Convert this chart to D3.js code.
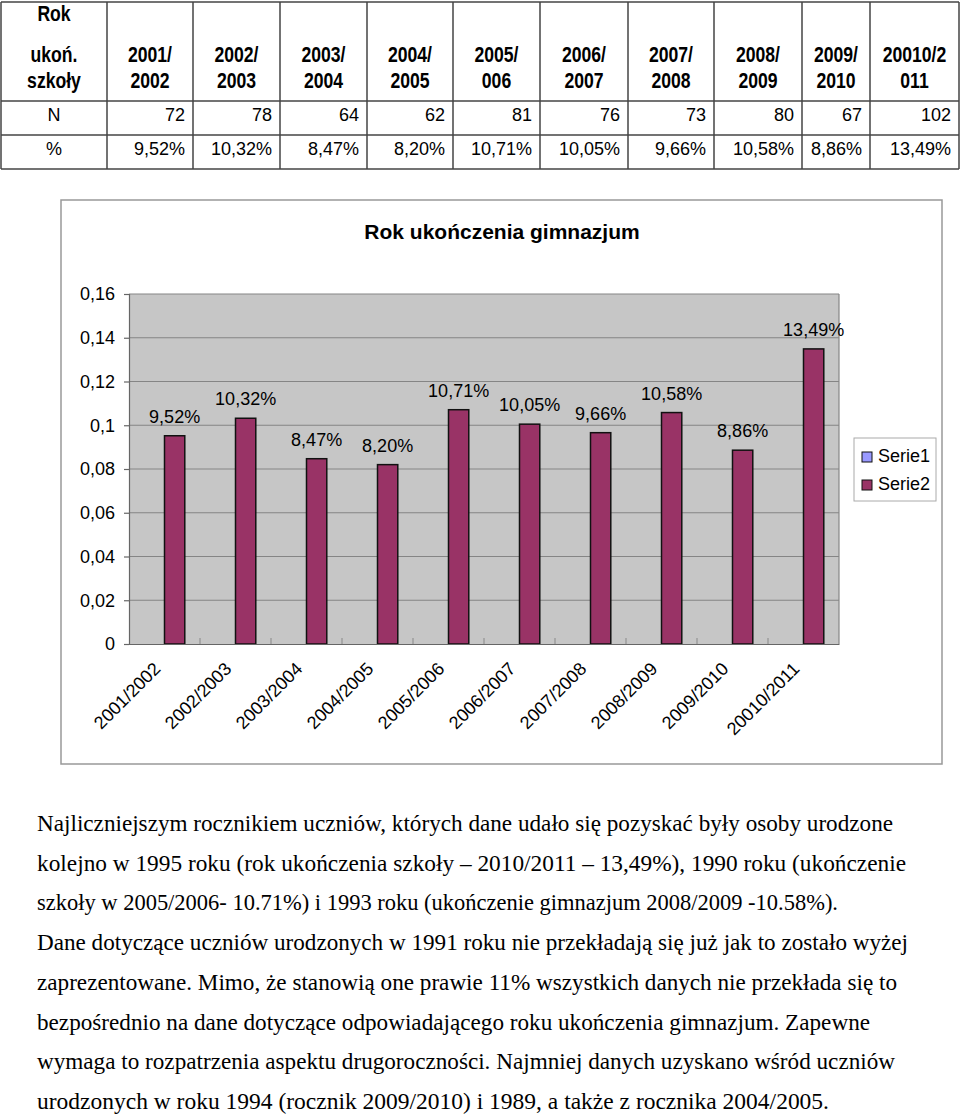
<!DOCTYPE html>
<html lang="pl">
<head>
<meta charset="UTF-8">
<title>Rok ukończenia gimnazjum</title>
<script src="https://cdnjs.cloudflare.com/ajax/libs/d3/7.8.5/d3.min.js"></script>
<style>
  body { margin: 0; background: #fff; }
  svg { display: block; }
  .sans { font-family: Arial, "Liberation Sans", sans-serif; }
  .serif { font-family: "Times New Roman", "Liberation Serif", serif; }
</style>
</head>
<body>
<div id="page"></div>
<script>
const years = ["2001/2002", "2002/2003", "2003/2004", "2004/2005", "2005/2006",
               "2006/2007", "2007/2008", "2008/2009", "2009/2010", "20010/2011"];
const headTop = ["2001/", "2002/", "2003/", "2004/", "2005/", "2006/", "2007/", "2008/", "2009/", "20010/2"];
const headBottom = ["2002", "2003", "2004", "2005", "006", "2007", "2008", "2009", "2010", "011"];
const nCounts = [72, 78, 64, 62, 81, 76, 73, 80, 67, 102];
const shares = [0.0952, 0.1032, 0.0847, 0.0820, 0.1071, 0.1005, 0.0966, 0.1058, 0.0886, 0.1349];
const seriesNames = ["Serie1", "Serie2"];
const yTicks = [0, 0.02, 0.04, 0.06, 0.08, 0.1, 0.12, 0.14, 0.16];

const paragraph = [
  "Najliczniejszym rocznikiem uczniów, których dane udało się pozyskać były osoby urodzone",
  "kolejno w 1995 roku  (rok ukończenia szkoły – 2010/2011 – 13,49%), 1990 roku (ukończenie",
  "szkoły w 2005/2006- 10.71%) i 1993 roku (ukończenie gimnazjum 2008/2009 -10.58%).",
  "Dane dotyczące uczniów urodzonych w 1991 roku nie przekładają się już jak to zostało wyżej",
  "zaprezentowane. Mimo, że stanowią one prawie 11% wszystkich danych nie przekłada się to",
  "bezpośrednio na dane dotyczące odpowiadającego roku ukończenia gimnazjum. Zapewne",
  "wymaga to rozpatrzenia aspektu drugoroczności. Najmniej danych uzyskano wśród uczniów",
  "urodzonych w roku 1994  (rocznik 2009/2010) i 1989,  a także z rocznika 2004/2005."
];
const lineEnds = [893, 906, 838, 908, 897, 870, 895, 829];

const W = 960, H = 1119;
const svg = d3.select("#page").append("svg").attr("width", W).attr("height", H);

const pl = d3.formatLocale({decimal: ",", thousands: " ", grouping: [3], currency: ["", ""]});
const pct = pl.format(".2%");
const num = pl.format("~g");

// ---------- table ----------
const colEdges = [1, 107, 193, 280, 367, 453, 540, 628, 714, 802, 870, 959];
const rowEdges = [2, 101, 135, 169];
const table = svg.append("g").attr("class", "sans");

rowEdges.forEach(yy => table.append("line")
  .attr("x1", colEdges[0]).attr("x2", colEdges[colEdges.length - 1])
  .attr("y1", yy).attr("y2", yy)
  .attr("stroke", "#444").attr("stroke-width", 1.5));
colEdges.forEach(xx => table.append("line")
  .attr("x1", xx).attr("x2", xx)
  .attr("y1", rowEdges[0]).attr("y2", rowEdges[rowEdges.length - 1])
  .attr("stroke", "#444").attr("stroke-width", 1.5));

const mid = i => (colEdges[i] + colEdges[i + 1]) / 2;
// header glyphs in the scan are taller than wide, so squeeze them a bit
const headCell = (g, t, cx, by) => g.append("text")
  .attr("transform", `translate(${cx},${by}) scale(0.8,1)`).text(t);
const head = table.append("g").attr("font-weight", "bold").attr("font-size", 22).attr("text-anchor", "middle");
[["Rok", 21], ["ukoń.", 62], ["szkoły", 88]].forEach(([t, yy]) => headCell(head, t, mid(0), yy));
headTop.forEach((t, i) => headCell(head, t, mid(i + 1), 62));
headBottom.forEach((t, i) => headCell(head, t, mid(i + 1), 88));

const body = table.append("g").attr("font-size", 18);
body.append("text").attr("x", mid(0)).attr("y", 121).attr("text-anchor", "middle").text("N");
body.append("text").attr("x", mid(0)).attr("y", 155).attr("text-anchor", "middle").text("%");
body.selectAll(".n").data(nCounts).join("text")
  .attr("x", (d, i) => colEdges[i + 2] - 8).attr("y", 121).attr("text-anchor", "end").text(d => d);
body.selectAll(".p").data(shares).join("text")
  .attr("x", (d, i) => colEdges[i + 2] - 8).attr("y", 155).attr("text-anchor", "end").text(d => pct(d));

// ---------- chart ----------
const chart = svg.append("g").attr("class", "sans");
chart.append("rect").attr("x", 61).attr("y", 200).attr("width", 881).attr("height", 564)
  .attr("fill", "#fff").attr("stroke", "#999").attr("stroke-width", 1.5);

chart.append("text").attr("x", 502).attr("y", 239).attr("text-anchor", "middle")
  .attr("font-size", 21).attr("font-weight", "bold").text("Rok ukończenia gimnazjum");

const plot = {left: 129, right: 839, top: 294, bottom: 644};
const x = d3.scaleBand().domain(years).range([plot.left, plot.right]);
const xs = d3.scaleBand().domain(seriesNames).range([0, x.bandwidth()]).paddingOuter(0.75);
const y = d3.scaleLinear().domain([0, 0.16]).range([plot.bottom, plot.top]);

chart.append("rect").attr("x", plot.left).attr("y", plot.top)
  .attr("width", plot.right - plot.left).attr("height", plot.bottom - plot.top)
  .attr("fill", "#c6c6c6");

chart.append("g").selectAll("line").data(yTicks.filter(d => d > 0)).join("line")
  .attr("x1", plot.left).attr("x2", plot.right)
  .attr("y1", d => y(d)).attr("y2", d => y(d))
  .attr("stroke", "#858585").attr("stroke-width", 1.2);

// right border of plot
chart.append("line").attr("x1", plot.right).attr("x2", plot.right)
  .attr("y1", plot.top).attr("y2", plot.bottom).attr("stroke", "#858585").attr("stroke-width", 1.2);

// bars (Serie2; Serie1 is empty)
chart.append("g").selectAll("rect").data(shares).join("rect")
  .attr("x", (d, i) => x(years[i]) + xs("Serie2"))
  .attr("y", d => y(d))
  .attr("width", xs.bandwidth())
  .attr("height", d => y(0) - y(d))
  .attr("fill", "#993366").attr("stroke", "#111").attr("stroke-width", 1.5);

chart.append("g").attr("font-size", 18).attr("text-anchor", "middle")
  .selectAll("text").data(shares).join("text")
  .attr("x", (d, i) => x(years[i]) + xs("Serie2") + xs.bandwidth() / 2)
  .attr("y", d => y(d) - 13)
  .text(d => pct(d));

// y axis
const yAxis = chart.append("g").attr("transform", `translate(${plot.left},0)`)
  .call(d3.axisLeft(y).tickValues(yTicks).tickSize(5).tickPadding(9).tickFormat(num));
yAxis.attr("font-family", null);
yAxis.selectAll("text").attr("font-size", 18).attr("fill", "#000");
yAxis.selectAll("line, path").attr("stroke", "#666").attr("stroke-width", 1.2);

// x axis with ticks between categories
const xAxis = chart.append("g").attr("transform", `translate(0,${plot.bottom})`)
  .call(d3.axisBottom(x).tickSize(0).tickFormat(""));
xAxis.select("path").attr("stroke", "#666").attr("stroke-width", 1.2);
chart.append("g").selectAll("line").data(years.slice(1)).join("line")
  .attr("x1", d => x(d)).attr("x2", d => x(d))
  .attr("y1", plot.bottom).attr("y2", plot.bottom - 6)
  .attr("stroke", "#888");

chart.append("g").attr("font-size", 18).attr("text-anchor", "end")
  .selectAll("text").data(years).join("text")
  .attr("transform", d => `translate(${x(d) + x.bandwidth() / 2 - 3},${plot.bottom + 26}) rotate(-45)`)
  .text(d => d);

// legend
const legend = chart.append("g").attr("transform", "translate(854,438)");
legend.append("rect").attr("width", 82).attr("height", 63)
  .attr("fill", "#fff").attr("stroke", "#aaa");
const legColors = ["#9999ff", "#993366"];
seriesNames.forEach((s, i) => {
  legend.append("rect").attr("x", 8).attr("y", 14 + i * 28).attr("width", 10).attr("height", 10)
    .attr("fill", legColors[i]).attr("stroke", "#111");
  legend.append("text").attr("x", 24).attr("y", 24 + i * 28).attr("font-size", 18).text(s);
});

// ---------- paragraph ----------
svg.append("g").attr("class", "serif").attr("font-size", 23)
  .selectAll("text").data(paragraph).join("text")
  .attr("x", 37)
  .attr("y", (d, i) => 831 + i * 39.7)
  .attr("textLength", (d, i) => lineEnds[i] - 37)
  .attr("lengthAdjust", "spacingAndGlyphs")
  .text(d => d);
</script>
</body>
</html>
